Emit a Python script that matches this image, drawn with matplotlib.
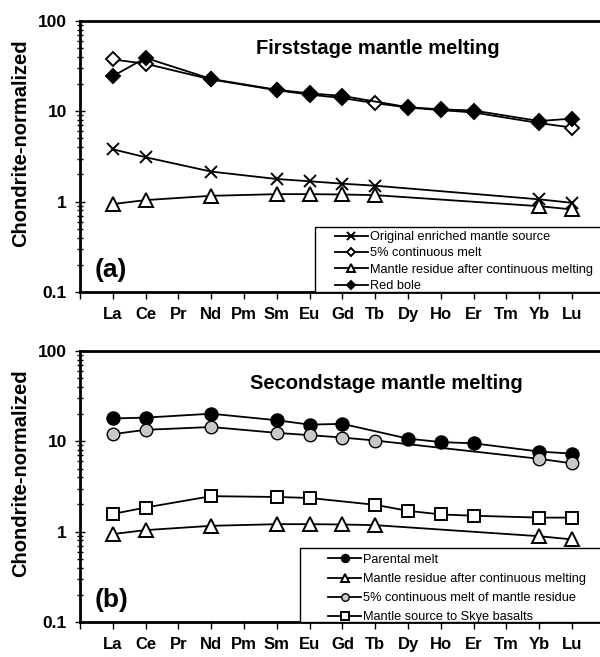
import numpy as np
import matplotlib
matplotlib.use('Agg')
import matplotlib.pyplot as plt
from matplotlib.ticker import LogLocator, NullFormatter, FixedLocator
from matplotlib.patches import Rectangle
from matplotlib import font_manager

plt.rcParams['font.family'] = ['Liberation Sans', 'DejaVu Sans']

ree = ['La', 'Ce', 'Pr', 'Nd', 'Pm', 'Sm', 'Eu', 'Gd', 'Tb', 'Dy', 'Ho', 'Er', 'Tm', 'Yb', 'Lu']
nan = np.nan

# (a) first stage
orig_source = [3.8, 3.1, nan, 2.15, nan, 1.78, 1.68, 1.58, 1.5, nan, nan, nan, nan, 1.06, 0.97]
melt_5pct = [37.5, 33.6, nan, 22.5, nan, 17.1, 15.3, 14.0, 12.3, 11.0, 10.3, 9.7, nan, 7.4, 6.6]
residue = [0.94, 1.04, nan, 1.16, nan, 1.21, 1.21, 1.2, 1.18, nan, nan, nan, nan, 0.89, 0.82]
red_bole = [24.5, 39.0, nan, 22.8, nan, 17.3, 15.8, 14.8, nan, 11.1, 10.5, 10.2, nan, 7.8, 8.3]

# (b) second stage
parental = [17.9, 18.3, nan, 20.2, nan, 17.1, 15.3, 15.6, nan, 10.7, 9.8, 9.5, nan, 7.7, 7.3]
melt_of_residue = [12.0, 13.4, nan, 14.4, nan, 12.4, 11.7, 11.0, 10.2, nan, nan, nan, nan, 6.4, 5.7]
skye_source = [1.57, 1.85, nan, 2.47, nan, 2.42, 2.36, nan, 1.98, 1.7, 1.55, 1.5, nan, 1.43, 1.43]

xpos = np.arange(1, len(ree) + 1)

names = {f.name for f in font_manager.fontManager.ttflist}
leg_family = ['Liberation Sans Narrow'] if 'Liberation Sans Narrow' in names else ['Liberation Sans']


def draw(ax, vals, label, mew=1.4, **kw):
    v = np.array(vals, dtype=float)
    ok = ~np.isnan(v)
    ax.plot(xpos[ok], v[ok], color='black', lw=1.3, label=label, mew=mew, **kw)


def style(ax, title, tx, ty, tag, box_x, box_top, leg_x, leg_top, spacing):
    ax.set_yscale('log')
    ax.set_ylim(0.1, 100)
    ax.set_xlim(0, 15.85)
    ax.xaxis.set_major_locator(FixedLocator(range(0, 16)))
    ax.set_xticklabels([''] + ree, fontsize=12, fontweight='bold')
    ax.tick_params(axis='x', direction='out', length=5, width=1, pad=6)
    ax.yaxis.set_major_locator(LogLocator(base=10))
    ax.yaxis.set_minor_locator(LogLocator(base=10, subs=np.arange(2, 10)))
    ax.yaxis.set_minor_formatter(NullFormatter())
    ax.set_yticks([0.1, 1, 10, 100])
    ax.set_yticklabels(['0.1', '1', '10', '100'], fontsize=12.5, fontweight='bold')
    ax.tick_params(axis='y', which='major', direction='inout', length=7, width=1, pad=6)
    ax.tick_params(axis='y', which='minor', direction='inout', length=5, width=1)
    for s in ['left', 'bottom', 'top']:
        ax.spines[s].set_linewidth(2)
    ax.spines['right'].set_visible(False)
    ax.set_ylabel('Chondrite-normalized', fontsize=14.5, fontweight='bold')
    ax.yaxis.set_label_coords(-0.096, 0.55)
    ax.text(tx, ty, title, transform=ax.transAxes, ha='center', va='center',
            fontsize=14.5, fontweight='bold')
    ax.text(0.029, 0.08, tag, transform=ax.transAxes, ha='left', va='center',
            fontsize=19, fontweight='bold')
    # legend frame drawn separately (wide left margin, tight top)
    ax.add_patch(Rectangle((box_x, 0), 1.05 - box_x, box_top, transform=ax.transAxes,
                           facecolor='white', edgecolor='black', lw=1, zorder=4,
                           clip_on=False))
    leg = ax.legend(loc='upper left', bbox_to_anchor=(leg_x, leg_top), frameon=False,
                    markerscale=0.6, prop={'family': leg_family, 'size': 9.2},
                    handlelength=2.6, handletextpad=0.15, labelspacing=spacing,
                    borderpad=0, borderaxespad=0)
    leg.set_zorder(5)


fig = plt.figure(figsize=(6, 6.57), dpi=100)
ax1 = fig.add_axes([0.1333, 0.5556, 0.8667, 0.4125])
ax2 = fig.add_axes([0.1333, 0.0533, 0.8667, 0.4125])

draw(ax1, orig_source, 'Original enriched mantle source', marker='x', ms=9)
draw(ax1, melt_5pct, '5% continuous melt', marker='D', ms=7, mfc='white')
draw(ax1, residue, 'Mantle residue after continuous melting', marker='^', ms=9.5, mfc='white')
draw(ax1, red_bole, 'Red bole', marker='D', ms=7, mfc='black')
style(ax1, 'Firststage mantle melting', 0.573, 0.9, '(a)',
      0.452, 0.24, 0.490, 0.225, 0.34)

draw(ax2, parental, 'Parental melt', marker='o', ms=9, mfc='black')
draw(ax2, residue, 'Mantle residue after continuous melting', marker='^', ms=9.5, mfc='white')
draw(ax2, melt_of_residue, '5% continuous melt of mantle residue', marker='o', ms=9, mfc='#c8c8c8', mew=1.0)
draw(ax2, skye_source, 'Mantle source to Skye basalts', marker='s', ms=8.5, mfc='white')
style(ax2, 'Secondstage mantle melting', 0.59, 0.88, '(b)',
      0.423, 0.273, 0.477, 0.251, 0.56)

fig.savefig('out.png', dpi=100)
